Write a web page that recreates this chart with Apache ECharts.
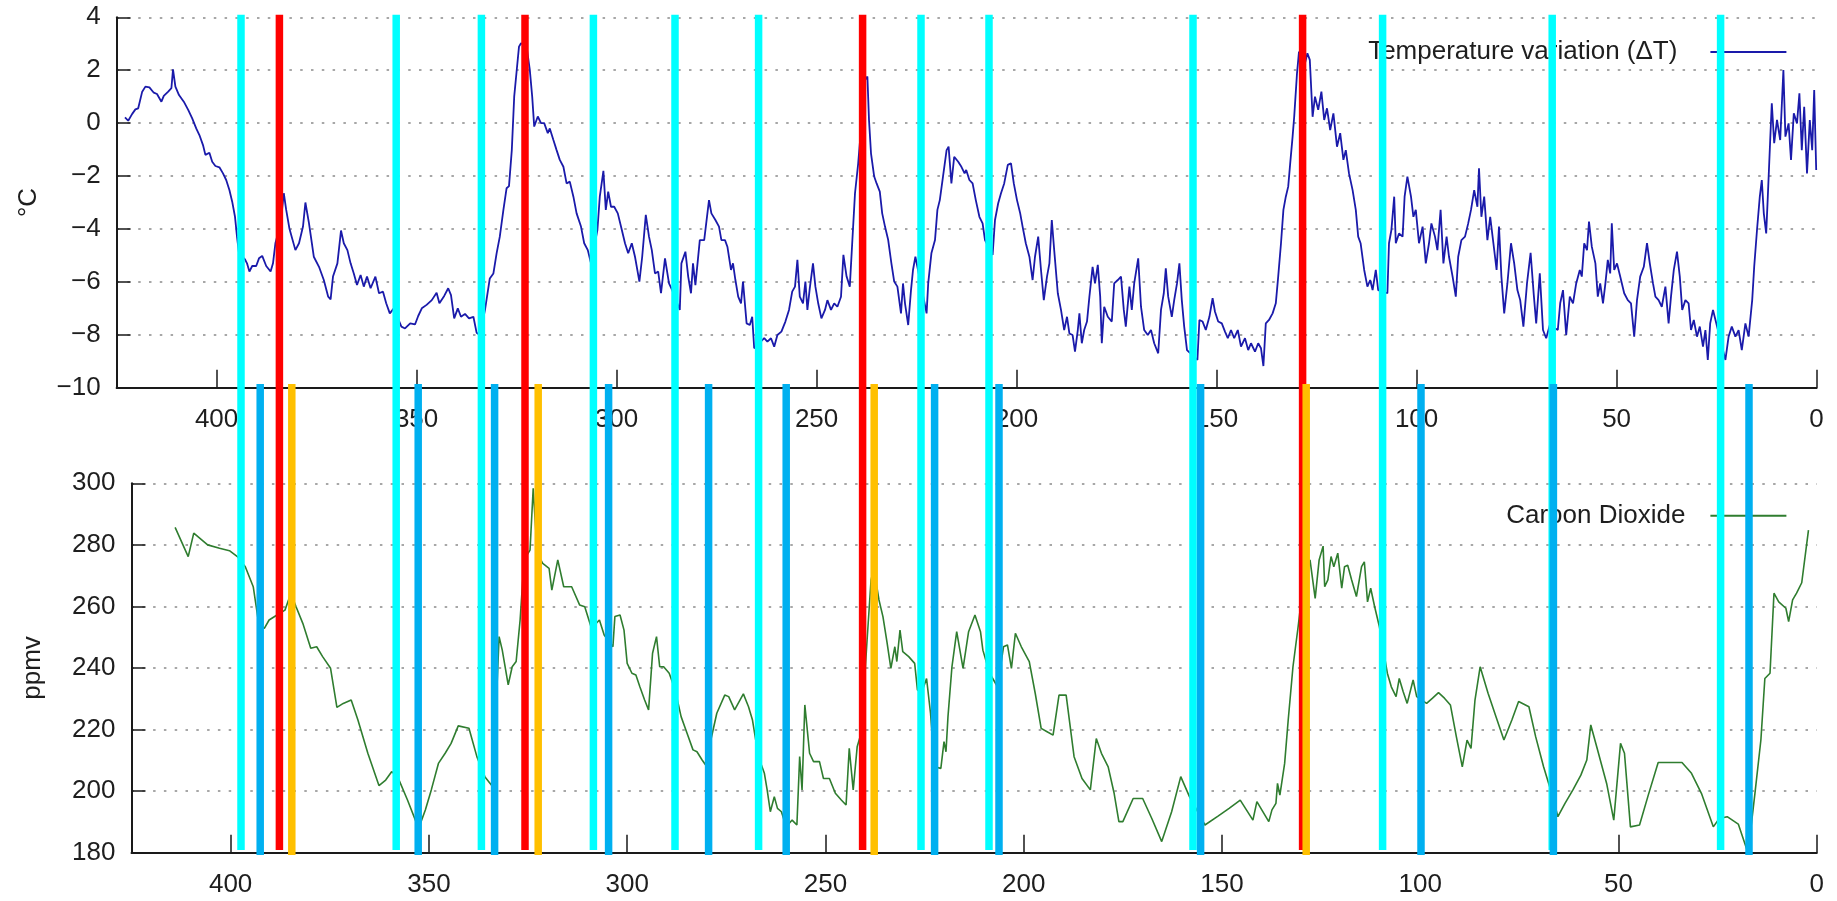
<!DOCTYPE html>
<html>
<head>
<meta charset="utf-8">
<title>Temperature variation and Carbon Dioxide</title>
<script src="https://cdn.jsdelivr.net/npm/echarts@6/dist/echarts.min.js"></script>
<style>
  html, body { margin: 0; padding: 0; background: #ffffff; }
  #chart { width: 1837px; height: 901px; }
</style>
</head>
<body>
<div id="chart"></div>
<script>
// Age axis (thousands of years before present) and value tick labels
const ageTicks = [0, 50, 100, 150, 200, 250, 300, 350, 400];
const tempTicks = [-10, -8, -6, -4, -2, 0, 2, 4];
const co2Ticks = [180, 200, 220, 240, 260, 280, 300];

// Temperature variation (ΔT, °C) against age (kyr)
const tempAge = [
  422.9, 422.1, 421.1, 420.3, 419.6, 418.6, 417.8, 416.8, 415.7, 414.9, 413.8, 413.2, 412.1, 411.3, 410.9, 410.3,
  409.4, 408.2, 407.1, 406.1, 405.1, 404.3, 403.4, 402.8, 401.8, 401.1, 400.3, 399.3, 398.4, 397.6, 396.8, 396.1,
  395.4, 394.9, 394.4, 392.9, 392.4, 391.8, 391.1, 390.1, 389.4, 388.6, 387.6, 386.5, 385.9, 385.3, 384.0, 383.2,
  382.6, 381.8, 380.3, 379.4, 378.4, 377.8, 376.9, 375.7, 374.4, 373.2, 372.1, 371.5, 370.9, 369.8, 368.9, 368.2,
  367.3, 366.5, 365.7, 364.9, 364.0, 363.2, 362.4, 361.5, 360.3, 359.4, 358.4, 357.6, 356.7, 355.7, 353.8, 352.9,
  351.6, 350.4, 349.6, 348.7, 347.5, 346.2, 345.0, 344.3, 343.1, 342.1, 341.4, 340.6, 339.7, 338.9, 337.9, 336.9,
  335.8, 335.0, 334.2, 332.9, 331.7, 330.8, 330.0, 329.2, 328.3, 327.5, 326.9, 326.2, 325.6, 325.0, 324.4, 323.9,
  322.5, 321.7, 321.1, 320.6, 319.7, 318.9, 318.1, 317.2, 316.7, 315.8, 315.0, 314.2, 313.3, 312.5, 311.7, 310.8,
  310.0, 308.9, 308.1, 307.2, 306.4, 304.8, 304.2, 303.3, 302.7, 302.1, 301.4, 300.6, 299.7, 298.9, 297.9, 297.1,
  296.2, 295.4, 294.3, 293.6, 292.7, 291.9, 291.2, 290.4, 289.6, 288.9, 287.9, 286.9, 286.1, 284.2, 283.8, 282.8,
  282.1, 281.4, 280.9, 280.3, 279.2, 278.1, 276.9, 276.3, 275.3, 274.4, 273.8, 272.9, 272.3, 271.4, 270.9, 270.3,
  269.6, 268.9, 268.4, 267.5, 266.7, 266.1, 265.6, 263.1, 262.3, 261.4, 260.6, 259.8, 258.8, 257.8, 256.9, 256.1,
  255.4, 254.8, 254.2, 253.4, 252.8, 252.3, 251.7, 250.9, 250.3, 249.6, 248.8, 247.9, 247.3, 246.4, 245.6, 244.8,
  243.9, 243.3, 242.5, 241.7, 241.1, 240.4, 239.6, 237.9, 237.3, 236.9, 236.4, 235.6, 235.0, 234.2, 233.6, 232.9,
  232.1, 231.3, 230.6, 229.8, 228.9, 228.4, 227.9, 227.1, 226.4, 225.9, 225.3, 222.5, 222.1, 221.3, 220.4, 219.8,
  219.2, 218.4, 217.5, 217.0, 216.3, 215.6, 214.6, 213.8, 213.0, 212.6, 211.8, 211.0, 210.2, 209.3, 208.5, 207.9,
  206.0, 205.4, 204.6, 203.9, 203.1, 202.2, 201.4, 200.7, 199.9, 199.1, 198.5, 197.7, 196.8, 196.0, 195.4, 194.6,
  193.9, 193.2, 192.4, 191.8, 191.2, 190.6, 189.7, 188.9, 188.1, 187.4, 186.8, 186.0, 185.4, 184.7, 184.3, 183.7,
  183.1, 182.4, 181.8, 181.0, 180.4, 179.7, 179.1, 178.7, 178.1, 177.2, 176.2, 175.6, 174.7, 173.9, 173.2, 172.7,
  171.8, 171.2, 170.6, 169.6, 168.9, 168.1, 167.2, 166.4, 165.6, 164.6, 163.9, 163.2, 162.7, 162.1, 161.2, 160.6,
  159.9, 159.3, 158.7, 158.1, 157.4, 154.8, 154.3, 153.5, 152.7, 151.8, 151.0, 150.4, 149.6, 148.7, 147.9, 147.2,
  146.4, 145.6, 144.7, 143.9, 142.9, 142.1, 141.4, 140.4, 139.6, 138.9, 138.3, 137.7, 136.9, 136.0, 135.2, 134.6,
  133.9, 133.3, 132.7, 132.1, 131.6, 131.0, 130.6, 129.9, 129.4, 128.1, 127.3, 126.7, 126.0, 125.4, 124.6, 123.8,
  123.1, 122.4, 121.6, 120.8, 119.9, 119.1, 118.3, 117.7, 116.9, 116.0, 115.2, 114.6, 114.0, 113.1, 112.3, 111.6,
  111.0, 110.2, 109.6, 107.3, 106.9, 106.3, 105.6, 105.2, 104.4, 103.5, 103.0, 102.3, 101.4, 100.8, 100.2, 99.4,
  98.5, 97.7, 96.9, 96.3, 95.4, 94.8, 94.0, 93.3, 92.5, 91.9, 91.0, 90.2, 89.6, 88.8, 87.9, 87.1,
  86.4, 85.6, 84.8, 84.4, 83.8, 83.1, 82.3, 81.6, 80.8, 80.0, 79.4, 78.8, 78.1, 77.3, 76.4, 75.6,
  74.8, 74.1, 73.3, 72.4, 71.5, 70.7, 70.1, 69.2, 68.4, 67.6, 66.7, 64.7, 64.1, 63.4, 62.6, 61.7,
  60.9, 60.1, 59.2, 58.7, 58.1, 57.4, 56.9, 56.2, 55.3, 54.7, 54.1, 53.4, 52.8, 52.2, 51.6, 51.2,
  50.6, 49.9, 49.1, 48.1, 47.2, 46.4, 45.6, 44.9, 44.1, 43.2, 42.4, 41.7, 40.9, 40.3, 39.5, 38.7,
  37.8, 37.0, 36.4, 35.7, 34.9, 34.2, 33.6, 32.8, 32.0, 31.4, 30.7, 29.9, 29.2, 28.4, 27.8, 27.2,
  26.6, 25.9, 22.8, 22.0, 21.2, 20.3, 19.5, 18.7, 17.8, 17.0, 16.1, 15.6, 14.9, 14.2, 13.7, 13.2,
  12.6, 12.2, 11.6, 11.2, 10.6, 9.9, 9.1, 8.3, 7.8, 7.0, 6.4, 5.7, 4.9, 4.3, 3.7, 3.1,
  2.4, 1.7, 1.1, 0.6, 0.1
];
const tempDelta = [
  0.22, 0.09, 0.35, 0.52, 0.56, 1.19, 1.38, 1.35, 1.15, 1.10, 0.81, 1.03, 1.19, 1.32, 2.03, 1.38,
  1.06, 0.81, 0.50, 0.18, -0.20, -0.45, -0.83, -1.20, -1.12, -1.46, -1.62, -1.67, -1.90, -2.15, -2.53, -2.97,
  -3.54, -4.29, -4.92, -5.15, -5.30, -5.61, -5.40, -5.40, -5.11, -5.02, -5.40, -5.61, -5.30, -4.54, -3.79, -2.65,
  -3.28, -3.98, -4.80, -4.54, -3.91, -3.00, -3.79, -5.05, -5.43, -5.93, -6.56, -6.66, -5.80, -5.30, -4.06, -4.54,
  -4.80, -5.30, -5.68, -6.12, -5.74, -6.18, -5.80, -6.24, -5.80, -6.43, -6.37, -6.81, -7.19, -7.00, -7.69, -7.76,
  -7.57, -7.61, -7.29, -7.00, -6.87, -6.69, -6.41, -6.81, -6.53, -6.24, -6.50, -7.38, -7.00, -7.32, -7.21, -7.38,
  -7.32, -7.92, -8.01, -7.06, -5.87, -5.68, -4.92, -4.29, -3.28, -2.46, -2.38, -1.02, 1.00, 1.95, 2.89, 3.02,
  2.89, 2.01, 1.00, -0.13, 0.25, 0.00, 0.00, -0.38, -0.20, -0.64, -1.02, -1.39, -1.65, -2.28, -2.21, -2.78,
  -3.41, -3.91, -4.54, -4.80, -5.30, -4.04, -2.78, -1.80, -3.28, -2.59, -3.16, -3.16, -3.41, -3.91, -4.54, -4.92,
  -4.54, -5.05, -5.99, -5.05, -3.47, -4.29, -4.80, -5.68, -5.61, -6.43, -5.11, -6.06, -6.31, -7.06, -5.30, -4.86,
  -5.80, -6.43, -5.30, -6.12, -4.42, -4.42, -2.91, -3.41, -3.66, -3.91, -4.42, -4.42, -4.67, -5.55, -5.30, -5.93,
  -6.56, -6.81, -5.99, -7.57, -7.63, -7.32, -8.51, -8.13, -8.26, -8.13, -8.45, -8.01, -7.88, -7.50, -7.06, -6.37,
  -6.18, -5.17, -6.56, -6.81, -5.99, -7.06, -6.24, -5.30, -6.18, -6.81, -7.38, -7.06, -6.69, -7.06, -6.81, -6.94,
  -6.56, -4.98, -5.80, -6.18, -4.54, -2.65, -1.52, 1.63, 1.76, 0.12, -1.14, -2.02, -2.28, -2.59, -3.41, -3.91,
  -4.42, -5.30, -5.99, -6.18, -7.19, -6.06, -6.81, -7.63, -6.31, -5.55, -5.05, -7.19, -6.06, -4.92, -4.42, -3.28,
  -2.91, -2.02, -1.02, -0.89, -2.28, -1.27, -1.46, -1.65, -1.90, -1.77, -2.15, -2.28, -2.91, -3.54, -3.79, -4.42,
  -4.98, -3.66, -3.03, -2.65, -2.28, -1.58, -1.52, -2.28, -2.91, -3.41, -3.91, -4.54, -5.05, -5.93, -5.05, -4.29,
  -5.55, -6.69, -5.80, -5.30, -3.66, -4.80, -6.43, -7.06, -7.82, -7.32, -7.95, -8.01, -8.64, -7.82, -7.19, -8.32,
  -7.82, -7.50, -6.56, -5.43, -6.06, -5.36, -6.56, -8.32, -6.94, -7.32, -7.50, -6.06, -5.93, -5.80, -7.06, -7.69,
  -6.18, -7.06, -6.06, -5.11, -6.94, -7.82, -8.01, -7.82, -8.32, -8.70, -7.06, -6.43, -5.49, -6.56, -7.32, -6.69,
  -6.06, -5.30, -6.69, -7.69, -8.58, -8.95, -7.44, -7.50, -7.82, -7.32, -6.62, -7.13, -7.50, -7.57, -7.88, -8.13,
  -7.82, -8.13, -7.82, -8.45, -8.13, -8.58, -8.32, -8.64, -8.32, -8.51, -9.18, -7.57, -7.44, -7.19, -6.81, -5.80,
  -4.54, -3.28, -2.78, -2.40, -1.52, -0.51, 0.24, 1.88, 2.70, 2.14, 2.64, 2.39, 0.24, 1.00, 0.50, 1.19,
  0.12, 0.56, -0.26, 0.37, -0.89, -0.38, -1.39, -1.02, -1.90, -2.53, -3.28, -4.29, -4.54, -5.55, -6.18, -5.93,
  -6.31, -5.55, -6.31, -6.43, -4.54, -4.04, -2.78, -4.54, -4.17, -4.29, -2.78, -2.02, -2.78, -3.54, -3.28, -4.54,
  -3.91, -5.30, -4.54, -3.79, -4.29, -4.80, -3.28, -5.30, -4.29, -5.05, -5.80, -6.56, -5.05, -4.42, -4.29, -3.79,
  -3.28, -2.53, -3.16, -1.71, -3.54, -2.78, -4.42, -3.54, -4.54, -5.55, -3.91, -5.80, -7.19, -6.06, -4.54, -5.30,
  -6.31, -6.69, -7.69, -6.06, -4.90, -6.50, -7.57, -5.68, -7.82, -8.13, -7.63, -7.82, -6.81, -6.31, -8.01, -6.56,
  -6.81, -6.06, -5.55, -5.80, -4.54, -4.80, -3.72, -4.67, -5.30, -6.56, -6.06, -6.81, -6.06, -5.17, -5.68, -3.79,
  -5.55, -5.30, -5.80, -6.43, -6.69, -6.81, -8.07, -6.69, -5.80, -5.43, -4.54, -5.30, -6.06, -6.56, -6.69, -6.94,
  -6.18, -7.57, -6.56, -5.55, -4.86, -5.80, -7.06, -6.69, -6.81, -7.82, -7.44, -8.07, -7.69, -8.45, -7.82, -8.95,
  -7.57, -7.06, -8.95, -8.07, -7.69, -8.07, -7.82, -8.58, -7.57, -8.07, -6.69, -5.43, -4.04, -2.78, -2.15, -3.41,
  -4.17, -2.78, -0.64, 0.75, -0.76, 0.12, -0.64, 2.01, -0.51, -0.01, -1.39, 0.37, -0.01, 1.13, -1.02, 0.62,
  -1.90, 0.12, -1.02, 1.25, -1.77
];

// Carbon dioxide (ppmv) against age (kyr)
const co2Age = [
  414.0, 410.7, 409.3, 405.8, 402.8, 400.3, 398.3, 396.3, 394.3, 392.8, 391.5, 390.3, 388.3, 386.3, 384.8, 383.5,
  381.8, 379.8, 378.3, 376.8, 374.8, 373.2, 371.6, 369.6, 367.9, 365.4, 362.6, 360.9, 359.4, 357.9, 355.4, 352.6,
  350.9, 349.4, 347.6, 345.9, 344.4, 342.6, 339.9, 337.9, 335.9, 333.9, 332.3, 331.5, 330.0, 329.0, 328.0, 327.0,
  326.0, 324.5, 323.7, 322.7, 321.3, 319.7, 319.0, 317.5, 316.0, 314.0, 312.0, 310.7, 309.0, 307.0, 305.8, 303.6,
  303.1, 301.8, 300.8, 300.0, 298.8, 297.8, 296.8, 295.6, 294.6, 293.6, 292.6, 291.8, 290.8, 289.4, 287.9, 286.4,
  284.9, 283.4, 282.4, 281.1, 279.9, 278.9, 277.4, 275.4, 274.4, 272.9, 270.7, 269.4, 268.4, 266.9, 265.4, 264.7,
  263.9, 262.9, 262.1, 261.1, 259.9, 258.4, 257.2, 256.5, 255.9, 255.2, 254.0, 253.0, 251.5, 250.5, 249.0, 247.5,
  246.0, 244.8, 244.0, 243.0, 242.0, 241.0, 239.5, 238.5, 237.8, 236.5, 235.5, 234.5, 233.5, 232.5, 232.0, 231.2,
  230.5, 229.0, 227.5, 226.8, 225.8, 224.5, 223.5, 222.5, 220.9, 220.1, 219.6, 219.1, 218.1, 216.9, 215.3, 213.9,
  212.3, 210.9, 210.3, 208.6, 206.6, 205.1, 204.1, 203.1, 202.1, 200.6, 198.6, 197.1, 195.6, 194.1, 192.6, 191.1,
  189.3, 187.3, 185.3, 183.2, 181.7, 180.4, 178.7, 177.2, 176.0, 175.0, 172.4, 170.0, 167.7, 165.2, 162.7, 160.4,
  158.2, 154.3, 151.0, 148.2, 145.4, 142.2, 141.2, 138.2, 137.4, 136.4, 136.0, 135.4, 134.2, 133.3, 132.1, 130.8,
  129.8, 127.8, 127.3, 126.5, 125.5, 124.5, 124.1, 123.3, 122.5, 121.8, 120.8, 119.8, 119.1, 118.3, 117.3, 116.1,
  114.8, 114.1, 113.3, 112.5, 111.5, 110.3, 108.3, 107.3, 106.1, 105.3, 104.3, 103.3, 101.8, 100.9, 98.4, 96.9,
  95.4, 93.9, 92.4, 90.9, 89.4, 88.2, 87.2, 86.2, 84.9, 82.9, 80.9, 78.9, 76.9, 75.2, 72.6, 70.9,
  68.9, 66.6, 65.3, 63.5, 61.5, 59.5, 58.0, 57.0, 55.5, 53.0, 51.2, 49.5, 48.5, 47.0, 44.7, 42.5,
  40.0, 37.5, 34.0, 31.6, 29.1, 26.1, 24.6, 22.6, 19.8, 17.6, 17.1, 15.6, 14.1, 13.1, 11.8, 10.8,
  9.6, 7.8, 7.1, 6.1, 5.1, 3.8, 2.1
];
const co2Ppmv = [
  285.7, 276.2, 283.8, 280.0, 278.9, 278.1, 276.2, 272.9, 266.4, 253.4, 252.9, 255.6, 257.2, 258.8, 264.3, 259.9,
  254.5, 246.4, 246.9, 243.7, 239.9, 227.2, 228.5, 229.6, 223.1, 212.3, 201.8, 203.6, 206.3, 204.7, 197.1, 187.9,
  193.9, 200.4, 209.0, 212.3, 215.5, 221.2, 220.4, 211.2, 204.7, 201.4, 250.2, 245.8, 234.5, 240.4, 242.1, 255.6,
  275.1, 278.3, 298.4, 277.3, 274.0, 272.4, 265.3, 275.1, 266.4, 266.4, 260.5, 259.9, 252.9, 255.6, 250.7, 246.9,
  256.7, 257.2, 252.3, 241.5, 238.3, 237.7, 233.9, 229.6, 226.4, 244.8, 250.2, 240.4, 240.4, 238.3, 232.9, 224.2,
  218.8, 213.4, 212.8, 210.1, 207.9, 216.6, 225.3, 231.2, 230.7, 226.4, 231.6, 227.4, 223.1, 211.2, 205.8, 200.4,
  193.3, 198.2, 194.4, 193.3, 188.4, 190.6, 189.0, 211.2, 200.4, 228.0, 212.3, 209.6, 209.6, 204.1, 204.1, 199.3,
  197.1, 195.5, 213.9, 200.4, 214.4, 218.8, 249.1, 268.6, 272.4, 262.1, 256.7, 248.6, 239.9, 246.9, 242.1, 252.3,
  245.3, 243.7, 241.5, 232.9, 231.8, 236.6, 225.3, 207.9, 207.4, 216.1, 212.8, 224.2, 240.4, 251.8, 239.9, 251.8,
  257.2, 251.8, 245.8, 238.3, 233.9, 246.9, 247.5, 239.9, 251.3, 246.9, 242.1, 231.8, 220.4, 219.3, 218.2, 231.2,
  231.2, 211.2, 204.1, 200.4, 217.1, 212.3, 207.9, 199.3, 190.1, 190.1, 197.6, 197.6, 191.1, 183.6, 193.3, 204.7,
  198.2, 189.0, 191.9, 194.4, 197.1, 190.6, 196.6, 190.1, 193.9, 196.0, 202.5, 198.7, 209.0, 223.1, 240.4, 253.4,
  264.3, 275.1, 275.6, 262.6, 275.1, 279.6, 266.4, 268.6, 276.2, 272.9, 277.3, 265.9, 272.9, 273.4, 268.6, 263.2,
  272.9, 274.5, 261.5, 265.9, 259.9, 253.4, 238.3, 233.9, 230.7, 236.6, 232.3, 228.5, 236.1, 230.7, 228.5, 230.2,
  232.0, 230.2, 228.0, 217.7, 207.9, 216.6, 213.9, 229.6, 240.4, 231.8, 224.2, 216.6, 223.1, 229.1, 227.4, 217.7,
  207.9, 198.2, 191.7, 196.0, 200.4, 205.2, 210.1, 221.5, 214.4, 202.5, 190.6, 215.5, 212.3, 188.4, 189.0, 198.7,
  209.3, 209.3, 209.3, 205.8, 199.3, 188.4, 191.1, 191.7, 189.3, 180.9, 182.6, 199.3, 216.6, 236.6, 238.3, 264.3,
  261.5, 259.4, 255.1, 262.1, 264.3, 267.7, 284.8
];

// Marker ages (kyr) for the vertical bands
const cyanMarks = [393.9, 355.1, 333.8, 305.8, 285.4, 264.5, 223.9, 206.9, 155.9, 108.5, 66.1, 24.0];
const redMarks = [384.3, 322.9, 238.5, 128.5];
const blueMarks = [389.1, 349.6, 330.5, 302.0, 277.0, 257.6, 220.5, 204.4, 154.0, 98.9, 65.8, 16.9];
const orangeMarks = [381.2, 319.6, 235.6, 127.6];

const FONT = '"Liberation Sans", Arial, Helvetica, sans-serif';
const TEXT = '#1e1e1e';
const AXIS_LINE = { color: '#1a1a1a', width: 2 };
const DOTTED = { color: '#8a8a8a', width: 1.6, type: [2.5, 8.3] };
const minus = v => String(v).replace('-', '\u2212');

function ageAxis(gridIndex) {
  return {
    type: 'value', gridIndex, min: 0, max: 425, interval: 50, inverse: true,
    axisLine: { show: true, onZero: false, lineStyle: AXIS_LINE },
    axisTick: { show: true, inside: true, length: 18, lineStyle: { color: '#1a1a1a', width: 1.5 } },
    axisLabel: {
      margin: 19, fontSize: 26, fontFamily: FONT, color: TEXT,
      formatter: v => (ageTicks.includes(v) ? String(v) : '')
    },
    splitLine: { show: false }
  };
}

function valueAxis(gridIndex, ticks, name, nameGap) {
  return {
    type: 'value', gridIndex,
    min: ticks[0], max: ticks[ticks.length - 1], interval: ticks[1] - ticks[0],
    name, nameLocation: 'middle', nameGap,
    nameTextStyle: { fontSize: 26, fontFamily: FONT, color: TEXT },
    axisLine: { show: true, onZero: false, lineStyle: AXIS_LINE },
    axisTick: { show: true, inside: true, length: 14, lineStyle: { color: '#1a1a1a', width: 1.5 } },
    axisLabel: { margin: 16, fontSize: 26, fontFamily: FONT, color: TEXT, formatter: minus },
    splitLine: { show: true, lineStyle: DOTTED }
  };
}

// Vertical bands: cyan and red run through both panels, blue and amber through the lower one
const BAND_WIDTH = 7.5;
const SPAN_FULL = [14.7, 850];
const SPAN_LOWER = [384, 855];
const bandGroups = [
  { name: 'cyan', marks: cyanMarks, color: '#00ffff', span: SPAN_FULL },
  { name: 'red', marks: redMarks, color: '#ff0000', span: SPAN_FULL },
  { name: 'blue', marks: blueMarks, color: '#00b0f0', span: SPAN_LOWER },
  { name: 'amber', marks: orangeMarks, color: '#ffc000', span: SPAN_LOWER }
];

const bandSeries = bandGroups.map((g, i) => ({
  type: 'custom',
  name: g.name,
  xAxisIndex: 2, yAxisIndex: 2,
  silent: true,
  z: 10 + i,
  data: g.marks.map(v => [v, 0]),
  renderItem: (params, api) => {
    const x = api.coord([api.value(0), 0])[0];
    return {
      type: 'rect',
      shape: { x: x - BAND_WIDTH / 2, y: g.span[0], width: BAND_WIDTH, height: g.span[1] - g.span[0] },
      style: { fill: g.color }
    };
  }
}));

const TEMP_NAME = 'Temperature variation (\u0394T)';
const CO2_NAME = 'Carbon Dioxide';
const TEMP_COLOR = '#1a1aaa';
const CO2_COLOR = '#2f7d2f';

const legendBase = {
  orient: 'horizontal', align: 'right', icon: 'rect',
  itemWidth: 76, itemHeight: 2, padding: 0, selectedMode: false
};

const option = {
  backgroundColor: '#ffffff',
  animation: false,
  grid: [
    { left: 116.6, top: 17.3, width: 1700, height: 370.4, containLabel: false, outerBoundsMode: 'none' },
    { left: 131.5, top: 483.3, width: 1685.3, height: 369.4, containLabel: false, outerBoundsMode: 'none' },
    { left: 116.6, top: 0, width: 1700, height: 901, containLabel: false, outerBoundsMode: 'none' }
  ],
  xAxis: [
    ageAxis(0),
    ageAxis(1),
    { type: 'value', gridIndex: 2, min: 0, max: 425, inverse: true, show: false }
  ],
  yAxis: [
    valueAxis(0, tempTicks, '\u00b0C', 75),
    valueAxis(1, co2Ticks, 'ppmv', 86),
    { type: 'value', gridIndex: 2, min: 0, max: 1, show: false }
  ],
  legend: [
    Object.assign({}, legendBase, {
      data: [TEMP_NAME], right: 50.6, top: 37,
      textStyle: { fontSize: 26, fontFamily: FONT, color: TEXT, lineHeight: 30, padding: [0, 28, 0, 0] }
    }),
    Object.assign({}, legendBase, {
      data: [CO2_NAME], right: 50.6, top: 500.7,
      textStyle: { fontSize: 26, fontFamily: FONT, color: TEXT, lineHeight: 30, padding: [0, 20, 0, 0] }
    })
  ],
  series: [
    {
      type: 'line', name: TEMP_NAME, xAxisIndex: 0, yAxisIndex: 0,
      data: tempAge.map((a, i) => [a, tempDelta[i]]),
      showSymbol: false, symbol: 'none', color: TEMP_COLOR,
      lineStyle: { color: TEMP_COLOR, width: 1.8 }, z: 2
    },
    {
      type: 'line', name: CO2_NAME, xAxisIndex: 1, yAxisIndex: 1,
      data: co2Age.map((a, i) => [a, co2Ppmv[i]]),
      showSymbol: false, symbol: 'none', color: CO2_COLOR,
      lineStyle: { color: CO2_COLOR, width: 1.6 }, z: 2
    }
  ].concat(bandSeries)
};

const chart = echarts.init(document.getElementById('chart'), null, { renderer: 'canvas' });
chart.setOption(option);
</script>
</body>
</html>
